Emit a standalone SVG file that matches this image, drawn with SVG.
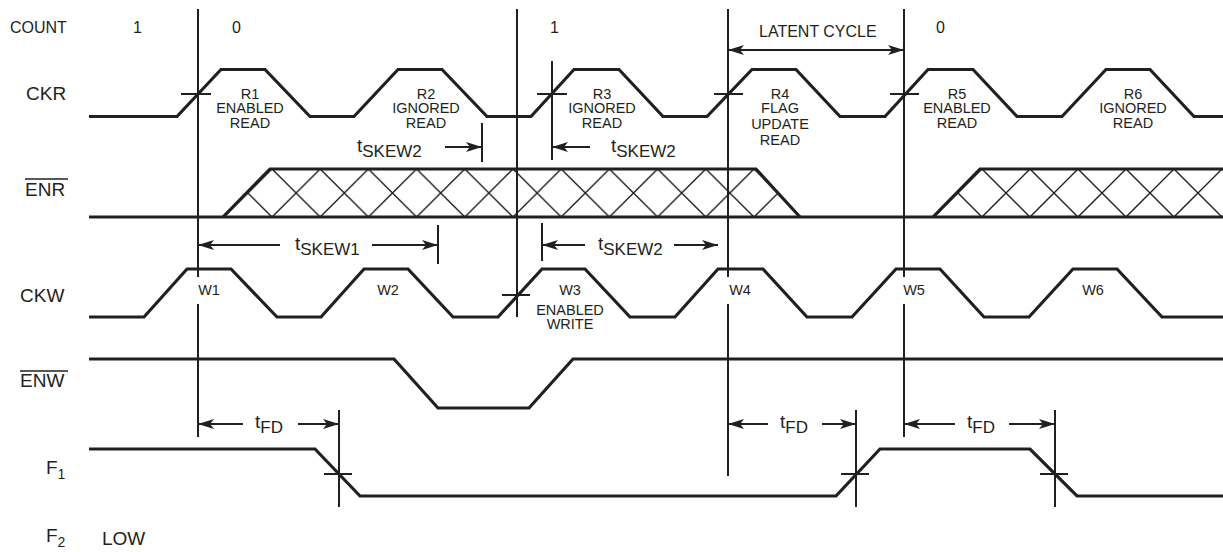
<svg xmlns="http://www.w3.org/2000/svg" width="1223" height="552" viewBox="0 0 1223 552">
<style>
text{font-family:"Liberation Sans",Arial,sans-serif;fill:#231f20}
.lbl{font-size:19px}
.sm{font-size:14.5px;text-anchor:middle}
.cnt{font-size:16px}
.wave{fill:none;stroke:#231f20;stroke-width:3.2;stroke-linejoin:miter}
.ref{fill:none;stroke:#231f20;stroke-width:2}
.tick{fill:none;stroke:#231f20;stroke-width:2}
.arr{fill:none;stroke:#231f20;stroke-width:2;marker-end:url(#ah)}
.hatch{fill:none;stroke:#231f20;stroke-width:1.4}
.ov{stroke:#231f20;stroke-width:1.6}
</style>
<defs>
<marker id="ah" markerUnits="userSpaceOnUse" viewBox="0 -6 16 12" refX="16" refY="0" markerWidth="16" markerHeight="12" orient="auto-start-reverse">
<path d="M0,-5 L16,0 L0,5 L4,0 Z" fill="#231f20"/>
</marker>
<pattern id="hp1" patternUnits="userSpaceOnUse" x="272" y="169" width="48.2" height="48">
<path d="M0,0 L48.2,48 M48.2,0 L0,48" class="hatch"/>
</pattern>
<pattern id="hp2" patternUnits="userSpaceOnUse" x="982" y="169" width="48" height="48">
<path d="M0,0 L48,48 M48,0 L0,48" class="hatch"/>
</pattern>
</defs>
<rect width="1223" height="552" fill="#fff"/>

<g id="count">
<text class="cnt" x="10" y="33">COUNT</text>
<text class="cnt" x="133" y="33">1</text>
<text class="cnt" x="232" y="33">0</text>
<text class="cnt" x="550" y="33">1</text>
<text class="cnt" x="936" y="33">0</text>
<text class="cnt" x="759" y="37">LATENT CYCLE</text>
</g>

<g id="ckr">
<text class="lbl" x="26" y="100">CKR</text>
<path class="wave" d="M89,116.5 L177,116.5 L221,69.5 L265,69.5 L310,116.5 L354,116.5 L398,69.5 L442,69.5 L487,116.5 L531,116.5 L574,69.5 L619,69.5 L663,116.5 L707,116.5 L752,69.5 L796,69.5 L840,116.5 L885,116.5 L928,69.5 L973,69.5 L1017,116.5 L1062,116.5 L1106,69.5 L1150,69.5 L1194,116.5 L1223,116.5"/>
<text class="sm"><tspan x="250" y="99">R1</tspan><tspan x="250" y="113">ENABLED</tspan><tspan x="250" y="128">READ</tspan></text>
<text class="sm"><tspan x="426" y="99">R2</tspan><tspan x="426" y="113">IGNORED</tspan><tspan x="426" y="128">READ</tspan></text>
<text class="sm"><tspan x="602" y="99">R3</tspan><tspan x="602" y="113">IGNORED</tspan><tspan x="602" y="128">READ</tspan></text>
<text class="sm"><tspan x="780" y="99">R4</tspan><tspan x="780" y="113">FLAG</tspan><tspan x="780" y="129">UPDATE</tspan><tspan x="780" y="145">READ</tspan></text>
<text class="sm"><tspan x="957" y="99">R5</tspan><tspan x="957" y="113">ENABLED</tspan><tspan x="957" y="128">READ</tspan></text>
<text class="sm"><tspan x="1133" y="99">R6</tspan><tspan x="1133" y="113">IGNORED</tspan><tspan x="1133" y="128">READ</tspan></text>
</g>

<g id="enr">
<text class="lbl" x="25" y="196">ENR</text>
<line class="ov" x1="25" y1="179" x2="68" y2="179"/>
<polygon points="223,217 270,169 756,169 800,217" fill="url(#hp1)"/>
<polygon points="933,217 980,169 1223,169 1223,217" fill="url(#hp2)"/>
<path class="wave" d="M89,217 L1223,217"/>
<path class="wave" d="M223,217 L270,169 L756,169 L800,217"/>
<path class="wave" d="M933,217 L980,169 L1223,169"/>
</g>

<g id="ckw">
<text class="lbl" x="20" y="302">CKW</text>
<path class="wave" d="M89,317 L144,317 L187,269 L231,269 L277,317 L321,317 L364,269 L408,269 L453,317 L498,317 L542,269 L585,269 L630,317 L675,317 L718,269 L763,269 L807,317 L852,317 L896,269 L940,269 L984,317 L1029,317 L1073,269 L1117,269 L1162,317 L1223,317"/>
<text class="sm" x="209" y="295">W1</text>
<text class="sm" x="388" y="295">W2</text>
<text class="sm"><tspan x="570" y="295">W3</tspan><tspan x="570" y="315">ENABLED</tspan><tspan x="570" y="329">WRITE</tspan></text>
<text class="sm" x="740" y="295">W4</text>
<text class="sm" x="914" y="295">W5</text>
<text class="sm" x="1093" y="295">W6</text>
</g>

<g id="enw">
<text class="lbl" x="20" y="387">ENW</text>
<line class="ov" x1="20" y1="371" x2="68" y2="371"/>
<path class="wave" d="M89,359 L394,359 L438,408 L529,408 L573,359 L1223,359"/>
</g>

<g id="f1">
<text class="lbl" x="46" y="474">F<tspan dy="5" font-size="14">1</tspan></text>
<path class="wave" d="M89,449 L315,449 L360,496 L836,496 L880,449 L1030,449 L1077,496 L1223,496"/>
</g>

<g id="f2">
<text class="lbl" x="46" y="542">F<tspan dy="5" font-size="14">2</tspan></text>
<text class="lbl" x="102" y="545">LOW</text>
</g>

<g id="connectors">
<path class="ref" d="M198,9 V277 M198,304 V437"/>
<path class="ref" d="M517,9 V317"/>
<path class="ref" d="M728,9 V277 M728,304 V476"/>
<path class="ref" d="M904,9 V277 M904,304 V437"/>
<path class="tick" d="M181,94 H211 M537,94 H567 M714,94 H743 M890,94 H919"/>
<path class="tick" d="M552,61 V160 M482,123 V162 M438,225 V264 M542,223 V261"/>
<path class="tick" d="M502,295 H530"/>
<path class="tick" d="M339,410 V507 M856,410 V507 M1055,410 V507 M324,474 H352 M841,474 H869 M1040,474 H1068"/>
<line x1="728" y1="50" x2="904" y2="50" class="arr" style="marker-start:url(#ah)"/>
<line class="arr" x1="445" y1="147" x2="482" y2="147"/>
<line class="arr" x1="590" y1="147" x2="552" y2="147"/>
<line class="arr" x1="280" y1="245" x2="198" y2="245"/>
<line class="arr" x1="372" y1="245" x2="438" y2="245"/>
<line class="arr" x1="585" y1="245" x2="542" y2="245"/>
<line class="arr" x1="674" y1="245" x2="718" y2="245"/>
<line class="arr" x1="243" y1="424" x2="198" y2="424"/>
<line class="arr" x1="298" y1="424" x2="339" y2="424"/>
<line class="arr" x1="768" y1="424" x2="728" y2="424"/>
<line class="arr" x1="822" y1="424" x2="856" y2="424"/>
<line class="arr" x1="955" y1="424" x2="904" y2="424"/>
<line class="arr" x1="1009" y1="424" x2="1055" y2="424"/>
<text class="lbl" x="357" y="152">t<tspan dy="5" font-size="17">SKEW2</tspan></text>
<text class="lbl" x="611" y="152">t<tspan dy="5" font-size="17">SKEW2</tspan></text>
<text class="lbl" x="295" y="250">t<tspan dy="5" font-size="17">SKEW1</tspan></text>
<text class="lbl" x="598" y="250">t<tspan dy="5" font-size="17">SKEW2</tspan></text>
<text class="lbl" x="255" y="428">t<tspan dy="5" font-size="17">FD</tspan></text>
<text class="lbl" x="780" y="428">t<tspan dy="5" font-size="17">FD</tspan></text>
<text class="lbl" x="967" y="428">t<tspan dy="5" font-size="17">FD</tspan></text>
</g>
</svg>
